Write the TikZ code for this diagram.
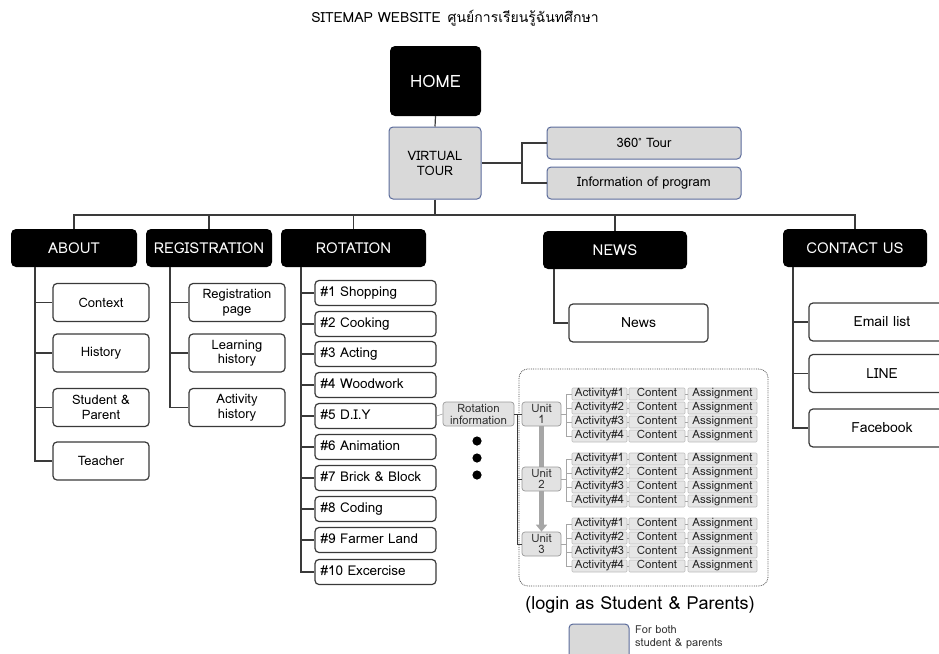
\documentclass[tikz,border=0pt]{standalone}
\usepackage{fontspec}
\setmainfont{Loma}
\newfontfamily\thaifont[Script=Thai]{Loma}
\usetikzlibrary{arrows.meta,backgrounds,calc}
\definecolor{ln}{HTML}{3A3A3A}
\definecolor{vtfill}{HTML}{D9D9D9}
\definecolor{vtdraw}{HTML}{5B6B9B}
\definecolor{cellfill}{HTML}{E6E6E6}
\definecolor{celldraw}{HTML}{BDBDBD}
\definecolor{unitfill}{HTML}{E2E2E2}
\definecolor{unitdraw}{HTML}{9A9A9A}
\tikzset{
  conn/.style={draw=ln,line width=1.2pt},
  thin conn/.style={draw=gray!70,line width=0.6pt},
  blackbox/.style={fill=black,text=white,rounded corners=5pt,inner sep=0pt,align=center,font=\fontsize{15}{17}\selectfont},
  wbox/.style={draw=ln,fill=white,line width=1.2pt,rounded corners=4pt,inner sep=0pt,align=center,font=\fontsize{13}{14.5}\selectfont},
  rbox/.style={wbox,text width=110pt,align=left,minimum width=121pt,minimum height=25pt,text height=9.5pt,text depth=3pt,font=\fontsize{13.5}{15}\selectfont},
  gbox/.style={draw=vtdraw,fill=vtfill,line width=1pt,rounded corners=4pt,inner sep=0pt,align=center,font=\fontsize{13}{15}\selectfont},
  cellbox/.style={draw=celldraw,fill=cellfill,line width=0.6pt,rounded corners=1pt,inner sep=0pt,minimum height=12pt,text height=8.2pt,text depth=2.3pt,font=\fontsize{11.5}{12}\selectfont,text=black!85},
  unitbox/.style={draw=unitdraw,fill=unitfill,line width=0.7pt,rounded corners=3pt,inner sep=0pt,align=center,minimum width=39pt,minimum height=24pt,font=\fontsize{11.5}{11.5}\selectfont,text=black!80},
}
\begin{document}
\begin{tikzpicture}[x=1pt,y=-1pt]
\useasboundingbox (0,0) rectangle (939,653);
% title
\node[font=\fontsize{14}{16}\selectfont] (title) at (455,18) {SITEMAP WEBSITE\hspace{7pt}{\thaifont ศูนย์การเรียนรู้ฉันทศึกษา}};
% home and virtual tour
\node[blackbox,minimum width=91pt,minimum height=70pt,font=\fontsize{17}{19}\selectfont] (home) at (435.5,81) {HOME};
\node[gbox,minimum width=92pt,minimum height=72pt] (vt) at (435,163) {VIRTUAL\\TOUR};
\node[gbox,minimum width=194pt,minimum height=32pt] (tour) at (644,143) {360{\raisebox{0.6ex}{\scriptsize °}} Tour};
\node[gbox,minimum width=194pt,minimum height=32pt] (info) at (644,183) {Information of program};
\draw[conn] (home.south) -- (vt.north);
\coordinate (vtb) at (522,163);
\draw[conn] (vt.east) -- (vtb);
\draw[conn] (vtb) |- (tour.west);
\draw[conn] (vtb) |- (info.west);
% main level
\node[blackbox,minimum width=126pt,minimum height=38pt] (about) at (74,248) {ABOUT};
\node[blackbox,minimum width=126pt,minimum height=38pt] (reg) at (209,248) {REGISTRATION};
\node[blackbox,minimum width=145pt,minimum height=38pt] (rot) at (353.5,248) {ROTATION};
\node[blackbox,minimum width=144pt,minimum height=38pt] (news) at (615,250) {NEWS};
\node[blackbox,minimum width=144pt,minimum height=38pt] (contact) at (855,248) {CONTACT US};
\coordinate (mb) at (435,215);
\draw[conn] (vt.south) -- (mb);
\draw[conn] (about.north) |- (mb) -| (contact.north);
\draw[conn] (reg.north) -- (reg.north |- mb);
\draw[conn] (rot.north) -- (rot.north |- mb);
\draw[conn] (news.north) -- (news.north |- mb);
% about children
\foreach \n/\t/\y in {context/Context/302.5,history/History/353,student/{Student \&\\Parent}/407.5,teacher/Teacher/461}
  \node[wbox,minimum width=96pt,minimum height=38pt] (\n) at (101,\y) {\t};
\coordinate (aspine) at (35,267);
\draw[conn] (aspine) |- (teacher.west);
\foreach \n in {context,history,student}
  \draw[conn] (aspine |- \n.west) -- (\n.west);
% registration children
\foreach \n/\t/\y in {regpage/{Registration\\page}/302.5,learn/{Learning\\history}/353,act/{Activity\\history}/407.5}
  \node[wbox,minimum width=96pt,minimum height=38pt] (\n) at (237,\y) {\t};
\coordinate (rspine) at (170,267);
\draw[conn] (rspine) |- (act.west);
\foreach \n in {regpage,learn}
  \draw[conn] (rspine |- \n.west) -- (\n.west);
% rotation children
\foreach \i/\t/\y in {1/{\#1 Shopping}/293,2/{\#2 Cooking}/324,3/{\#3 Acting}/354,4/{\#4 Woodwork}/385,5/{\#5 D.I.Y}/416,6/{\#6 Animation}/447,7/{\#7 Brick \& Block}/478,8/{\#8 Coding}/509,9/{\#9 Farmer Land}/540,10/{\#10 Excercise}/572}
  \node[rbox] (r\i) at (375.5,\y) {\t};
\coordinate (rotspine) at (301,267);
\draw[conn] (rotspine) |- (r10.west);
\foreach \i in {1,...,9}
  \draw[conn] (rotspine |- r\i.west) -- (r\i.west);
% news child
\node[wbox,minimum width=139pt,minimum height=38pt,font=\fontsize{14}{16}\selectfont] (newsc) at (638.5,323) {News};
\coordinate (nspine) at (554,269);
\draw[conn] (nspine) |- (newsc.west);
% contact children
\foreach \n/\t/\y in {email/Email list/322,line/LINE/373.5,fb/Facebook/428}
  \node[wbox,minimum width=146pt,minimum height=38pt,font=\fontsize{14}{16}\selectfont] (\n) at (882,\y) {\t};
\coordinate (cspine) at (793,267);
\draw[conn] (cspine) |- (fb.west);
\foreach \n in {email,line}
  \draw[conn] (cspine |- \n.west) -- (\n.west);
% rotation information
\node[unitbox,minimum width=71pt,minimum height=24pt,font=\fontsize{11.5}{12}\selectfont] (rinfo) at (478.5,414) {Rotation\\information};
\draw[thin conn] (r5.east) -- (rinfo.west);
\fill (477,441) circle (4.6);
\fill (477,458) circle (4.6);
\fill (477,475) circle (4.6);
% dotted container
\draw[densely dotted,draw=black!70,line width=0.8pt,rounded corners=9pt] (519,369) rectangle (768,586);
% units
\foreach \u/\b in {1/394,2/459,3/524}{
  \node[unitbox] (u\u) at (541.5,\b+20) {Unit\\\u};
  \foreach \r in {1,...,4}{
    \node[cellbox,minimum width=55pt] (a\u\r) at (599.5,\b+14*\r-14) {Activity\#\r};
    \node[cellbox,minimum width=56pt] (c\u\r) at (657,\b+14*\r-14) {Content};
    \node[cellbox,minimum width=69pt] (s\u\r) at (722.5,\b+14*\r-14) {Assignment};
    \draw[thin conn] (a\u\r.east) -- (c\u\r.west);
    \draw[thin conn] (c\u\r.east) -- (s\u\r.west);
  }
  \coordinate (br\u) at (566,\b+20);
  \draw[thin conn] (u\u.east) -- (br\u);
  \draw[thin conn] (br\u |- a\u1.west) -- (br\u |- a\u4.west);
  \foreach \r in {1,...,4}
    \draw[thin conn] (br\u |- a\u\r.west) -- (a\u\r.west);
}
\begin{scope}[on background layer]
  \draw[draw=black!35,line width=5pt,-{Triangle[length=7pt,width=11pt]}] (u1.south) -- (u3.north);
\end{scope}
\coordinate (bus) at (517,414);
\draw[conn,line width=1pt] (rinfo.east) -- (u1.west);
\draw[conn,line width=1pt] (bus) |- (u3.west);
\draw[conn,line width=1pt] (bus |- u2.west) -- (u2.west);
% caption and legend
\node[font=\fontsize{18}{20}\selectfont] (login) at (640,605) {(login as Student \& Parents)};
\node[gbox,minimum width=60pt,minimum height=36pt] (legend) at (599,642) {};
\node[anchor=north west,align=left,inner sep=0pt,font=\fontsize{11}{13}\selectfont,text=black!80] (legtext) at (635,625) {For both\\student \& parents};
\end{tikzpicture}
\end{document}
